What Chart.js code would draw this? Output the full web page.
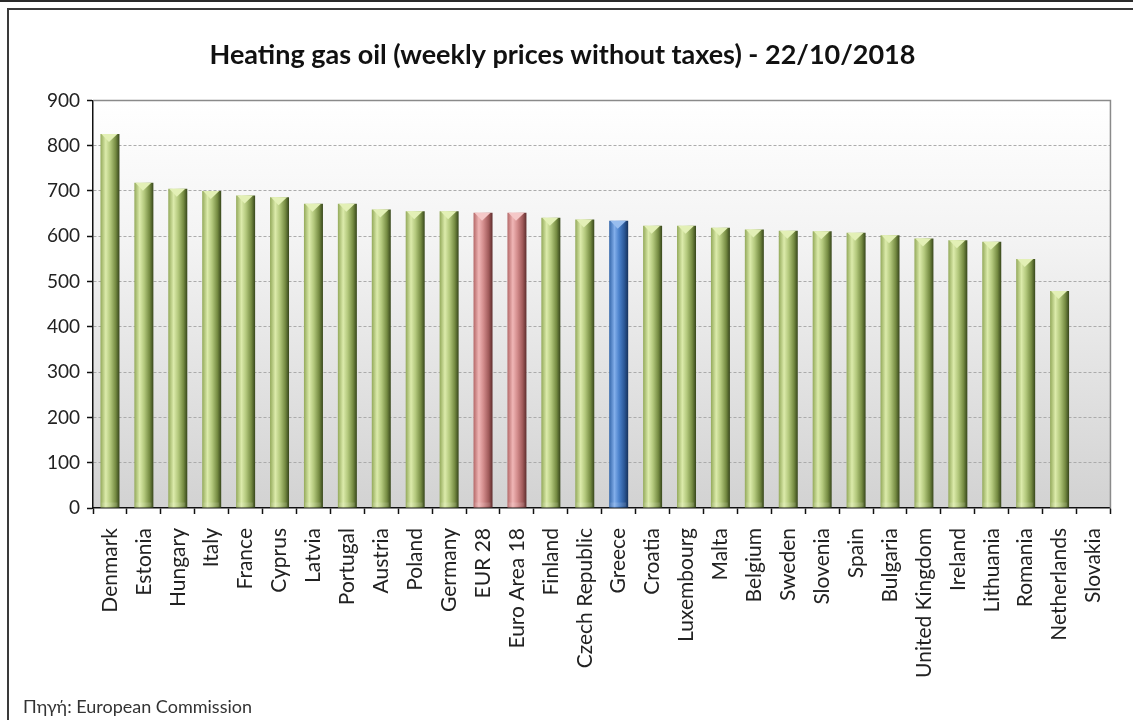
<!DOCTYPE html>
<html>
<head>
<meta charset="utf-8">
<script src="https://cdn.jsdelivr.net/npm/chart.js@4/dist/chart.umd.min.js"></script>
<style>
	html, body { margin: 0; padding: 0; background: #fff; }
	#wrap { position: relative; width: 1133px; height: 720px; overflow: hidden; }
	#topline { position: absolute; left: 0; top: 0; width: 1133px; height: 2px; background: #2a2a2a; }
	#frame { position: absolute; left: 7px; top: 8px; width: 1140px; height: 730px; border-left: 2px solid #3a3a3a; border-top: 2px solid #3a3a3a; }
	#source { position: absolute; left: 23px; top: 695px; font: 18px Lato, "Open Sans", sans-serif; color: #333; white-space: nowrap; }
	canvas { position: absolute; left: 0; top: 0; }
</style>
</head>
<body>
<div id="wrap">
	<div id="topline"></div>
	<div id="frame"></div>
	<canvas id="chart" width="1133" height="720"></canvas>
	<div id="source"></div>
</div>
<script>
// Chart data.
const countries = [
	'Denmark', 'Estonia', 'Hungary', 'Italy', 'France', 'Cyprus', 'Latvia', 'Portugal',
	'Austria', 'Poland', 'Germany', 'EUR 28', 'Euro Area 18', 'Finland', 'Czech Republic',
	'Greece', 'Croatia', 'Luxembourg', 'Malta', 'Belgium', 'Sweden', 'Slovenia', 'Spain',
	'Bulgaria', 'United Kingdom', 'Ireland', 'Lithuania', 'Romania', 'Netherlands', 'Slovakia'
];
const prices = [
	826, 718, 705, 700, 690, 686, 672, 672,
	659, 655, 655, 652, 652, 641, 637,
	634, 623, 623, 619, 615, 612, 611, 608,
	602, 595, 591, 588, 550, 479, null
];
const yTicks = [0, 100, 200, 300, 400, 500, 600, 700, 800, 900];
const aggregates = ['EUR 28', 'Euro Area 18'];
const highlighted = 'Greece';

const chartTitle = 'Heating gas oil (weekly prices without taxes) - 22/10/2018';
const sourceNote = 'Πηγή: European Commission';

document.getElementById( 'source' ).textContent = sourceNote;

// Cylinder-like shading per bar kind.
const palettes = {
	green: { stops: ['#93a95a', '#dcebab', '#b3c87c', '#758b42', '#37461b'], cap: '#e3f0b6' },
	red:   { stops: ['#b46868', '#f0b6b6', '#d38c8c', '#a05a5a', '#5e2d2d'], cap: '#f5c8c8' },
	blue:  { stops: ['#3366aa', '#82aeea', '#4b82cc', '#2b5796', '#17325b'], cap: '#98bdee' }
};

function kindOf( index ) {
	const name = countries[index];
	if ( name === highlighted ) return 'blue';
	if ( aggregates.includes( name ) ) return 'red';
	return 'green';
}

const BAR_FRACTION = 0.56;

function barFill( context ) {
	const chart = context.chart;
	const xs = chart.scales.x;
	const palette = palettes[kindOf( context.dataIndex )];
	if ( ! chart.chartArea || ! xs ) {
		return palette.stops[2];
	}
	const cx = xs.getPixelForValue( context.dataIndex );
	const w = xs.width / countries.length * BAR_FRACTION;
	const g = chart.ctx.createLinearGradient( cx - w / 2, 0, cx + w / 2, 0 );
	const pos = [0, 0.28, 0.52, 0.8, 1];
	palette.stops.forEach( ( c, i ) => g.addColorStop( pos[i], c ) );
	return g;
}

// Plot area background (white to grey) and top/right border.
const plotBackground = {
	id: 'plotBackground',
	beforeDraw( chart ) {
		const { ctx, chartArea: a } = chart;
		const g = ctx.createLinearGradient( 0, a.top, 0, a.bottom );
		g.addColorStop( 0, '#ffffff' );
		g.addColorStop( 0.35, '#f3f3f3' );
		g.addColorStop( 1, '#d2d2d2' );
		ctx.save();
		ctx.fillStyle = g;
		ctx.fillRect( a.left, a.top, a.right - a.left, a.bottom - a.top );
		ctx.restore();
	},
	afterDraw( chart ) {
		const { ctx, chartArea: a } = chart;
		ctx.save();
		ctx.strokeStyle = '#8a8a8a';
		ctx.lineWidth = 1.5;
		ctx.beginPath();
		ctx.moveTo( a.left, a.top );
		ctx.lineTo( a.right, a.top );
		ctx.lineTo( a.right, a.bottom );
		ctx.stroke();
		ctx.restore();
	}
};

// Pyramid caps on the top of every bar.
const barCaps = {
	id: 'barCaps',
	afterDatasetsDraw( chart ) {
		const ctx = chart.ctx;
		const meta = chart.getDatasetMeta( 0 );
		ctx.save();
		meta.data.forEach( ( bar, i ) => {
			if ( prices[i] == null ) return;
			const { x, y, width } = bar.getProps( ['x', 'y', 'width'], true );
			const palette = palettes[kindOf( i )];
			ctx.fillStyle = palette.cap;
			ctx.beginPath();
			ctx.moveTo( x - width / 2 + 1, y );
			ctx.lineTo( x + width / 2 - 2, y );
			ctx.lineTo( x - 1, y + 8 );
			ctx.closePath();
			ctx.fill();
			ctx.fillStyle = 'rgba(255,255,255,0.12)';
			ctx.fillRect( x - width / 2 + 1, bar.base - 5, width - 3, 4 );
		} );
		ctx.restore();
	}
};

const tickFont = { family: 'Lato, "Open Sans", sans-serif', size: 21 };

new Chart( document.getElementById( 'chart' ), {
	type: 'bar',
	data: {
		labels: countries,
		datasets: [ {
			data: prices,
			backgroundColor: barFill,
			borderWidth: 0,
			barPercentage: BAR_FRACTION,
			categoryPercentage: 1
		} ]
	},
	options: {
		responsive: false,
		devicePixelRatio: 1,
		animation: false,
		layout: {
			padding: { top: 6, right: 18, bottom: 4, left: 10 }
		},
		scales: {
			x: {
				offset: true,
				ticks: {
					color: '#222',
					font: tickFont,
					minRotation: 90,
					maxRotation: 90,
					autoSkip: false,
					padding: 14
				},
				grid: {
					offset: true,
					drawOnChartArea: false,
					drawTicks: true,
					tickLength: 6,
					tickColor: '#111',
					tickWidth: 1.5
				},
				border: { color: '#111', width: 1.5 },
				afterFit: ( scale ) => { scale.height = 208; }
			},
			y: {
				min: 0,
				max: 900,
				afterBuildTicks: ( scale ) => { scale.ticks = yTicks.map( v => ( { value: v } ) ); },
				ticks: {
					color: '#222',
					font: { family: 'Lato, "Open Sans", sans-serif', size: 19 },
					padding: 7
				},
				grid: {
					color: ( c ) => ( c.tick && c.tick.value === 0 ) ? 'rgba(0,0,0,0)' : '#ababab',
					lineWidth: 1,
					tickLength: 6,
					tickColor: '#111',
					tickWidth: 1.5
				},
				border: { color: '#111', width: 1.5, dash: [3, 2] },
				afterFit: ( scale ) => { scale.width = 83; }
			}
		},
		plugins: {
			legend: { display: false },
			tooltip: { enabled: false },
			title: {
				display: true,
				text: chartTitle,
				color: '#111',
				font: { family: 'Lato, sans-serif', size: 27, weight: 'bold', lineHeight: 1.2 },
				padding: { top: 33, bottom: 29 }
			}
		}
	},
	plugins: [ plotBackground, barCaps ]
} );
</script>
</body>
</html>
